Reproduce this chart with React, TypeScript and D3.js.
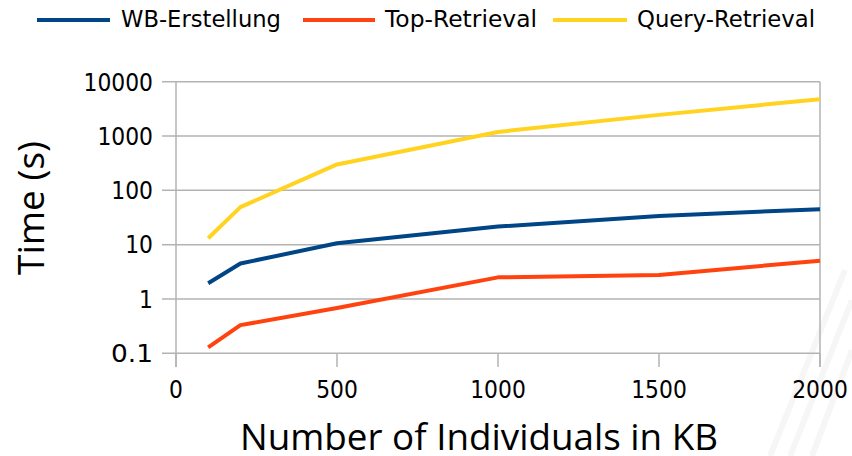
import React from "react";
import * as d3 from "d3";

const xValues = [100, 200, 500, 1000, 1500, 2000];
const wbErstellung = [1.95, 4.5, 10.6, 21.5, 33.8, 45];
const topRetrieval = [0.129, 0.33, 0.68, 2.5, 2.77, 5.07];
const queryRetrieval = [13.1, 49, 300, 1190, 2450, 4760];
const seriesNames = ["WB-Erstellung", "Top-Retrieval", "Query-Retrieval"];
const seriesColors = ["#004586", "#ff420e", "#ffd320"];
const xTicks = [0, 500, 1000, 1500, 2000];
const yTicks = [0.1, 1, 10, 100, 1000, 10000];
const yTickLabels = ["0.1", "1", "10", "100", "1000", "10000"];

const W = 852;
const H = 456;
const left = 176;
const right = 820;
const top = 81.7;
const bottom = 353.3;

export default function App() {
  const x = d3.scaleLinear().domain([0, 2000]).range([left, right]);
  const y = d3.scaleLog().domain([0.1, 10000]).range([bottom, top]);
  const line = d3
    .line<number>()
    .x((_, i) => x(xValues[i]))
    .y((d) => y(d));
  const all = [wbErstellung, topRetrieval, queryRetrieval];
  const legend = [
    { x1: 37, x2: 110, tx: 121, tl: 160 },
    { x1: 303, x2: 375, tx: 385, tl: 152 },
    { x1: 553, x2: 627, tx: 637, tl: 178 },
  ];
  const font = "'DejaVu Sans', sans-serif";
  const digitW = 13.9;
  return (
    <svg
      width={W}
      height={H}
      style={{ position: "absolute", left: 0, top: 0, background: "#fff" }}
    >
      {/* faint background streaks */}
      <g stroke="#f6f6f6" strokeWidth={6}>
        <line x1={790} y1={456} x2={852} y2={300} />
        <line x1={812} y1={456} x2={852} y2={350} />
        <line x1={770} y1={456} x2={845} y2={270} />
      </g>
      {/* legend */}
      {legend.map((l, i) => (
        <g key={i}>
          <line x1={l.x1} x2={l.x2} y1={20} y2={20} stroke={seriesColors[i]} strokeWidth={4} />
          <text
            x={l.tx}
            y={27}
            fontFamily={font}
            fontSize={23}
            textLength={l.tl}
            lengthAdjust="spacingAndGlyphs"
            fill="#000"
          >
            {seriesNames[i]}
          </text>
        </g>
      ))}
      {/* grid */}
      {yTicks.map((t, i) => (
        <g key={i}>
          <line x1={162} x2={right} y1={y(t)} y2={y(t)} stroke="#b3b3b3" strokeWidth={1.5} />
          <text
            x={153}
            y={y(t) + 8.8}
            textAnchor="end"
            fontFamily={font}
            fontSize={24}
            textLength={yTickLabels[i] === "0.1" ? 42 : yTickLabels[i].length * digitW}
            lengthAdjust="spacingAndGlyphs"
            fill="#000"
          >
            {yTickLabels[i]}
          </text>
        </g>
      ))}
      <line x1={left} x2={left} y1={top} y2={367} stroke="#b3b3b3" strokeWidth={1.5} />
      <line x1={right} x2={right} y1={top} y2={367} stroke="#b3b3b3" strokeWidth={1.5} />
      {xTicks.map((t, i) => (
        <g key={i}>
          <line x1={x(t)} x2={x(t)} y1={bottom} y2={367} stroke="#b3b3b3" strokeWidth={1.5} />
          <text
            x={x(t)}
            y={398}
            textAnchor="middle"
            fontFamily={font}
            fontSize={24}
            textLength={String(t).length * digitW}
            lengthAdjust="spacingAndGlyphs"
            fill="#000"
          >
            {t}
          </text>
        </g>
      ))}
      {/* series */}
      {all.map((s, i) => (
        <path
          key={i}
          d={line(s) || ""}
          fill="none"
          stroke={seriesColors[i]}
          strokeWidth={4}
          strokeLinejoin="round"
        />
      ))}
      {/* axis titles */}
      <text
        x={479}
        y={450}
        textAnchor="middle"
        fontFamily="'Open Sans', sans-serif"
        fontSize={37}
        textLength={478}
        lengthAdjust="spacingAndGlyphs"
        fill="#000"
      >
        Number of Individuals in KB
      </text>
      <text
        transform={`translate(44,208) rotate(-90)`}
        textAnchor="middle"
        fontFamily="'Open Sans', sans-serif"
        fontSize={37}
        textLength={134}
        lengthAdjust="spacingAndGlyphs"
        fill="#000"
      >
        Time (s)
      </text>
    </svg>
  );
}
